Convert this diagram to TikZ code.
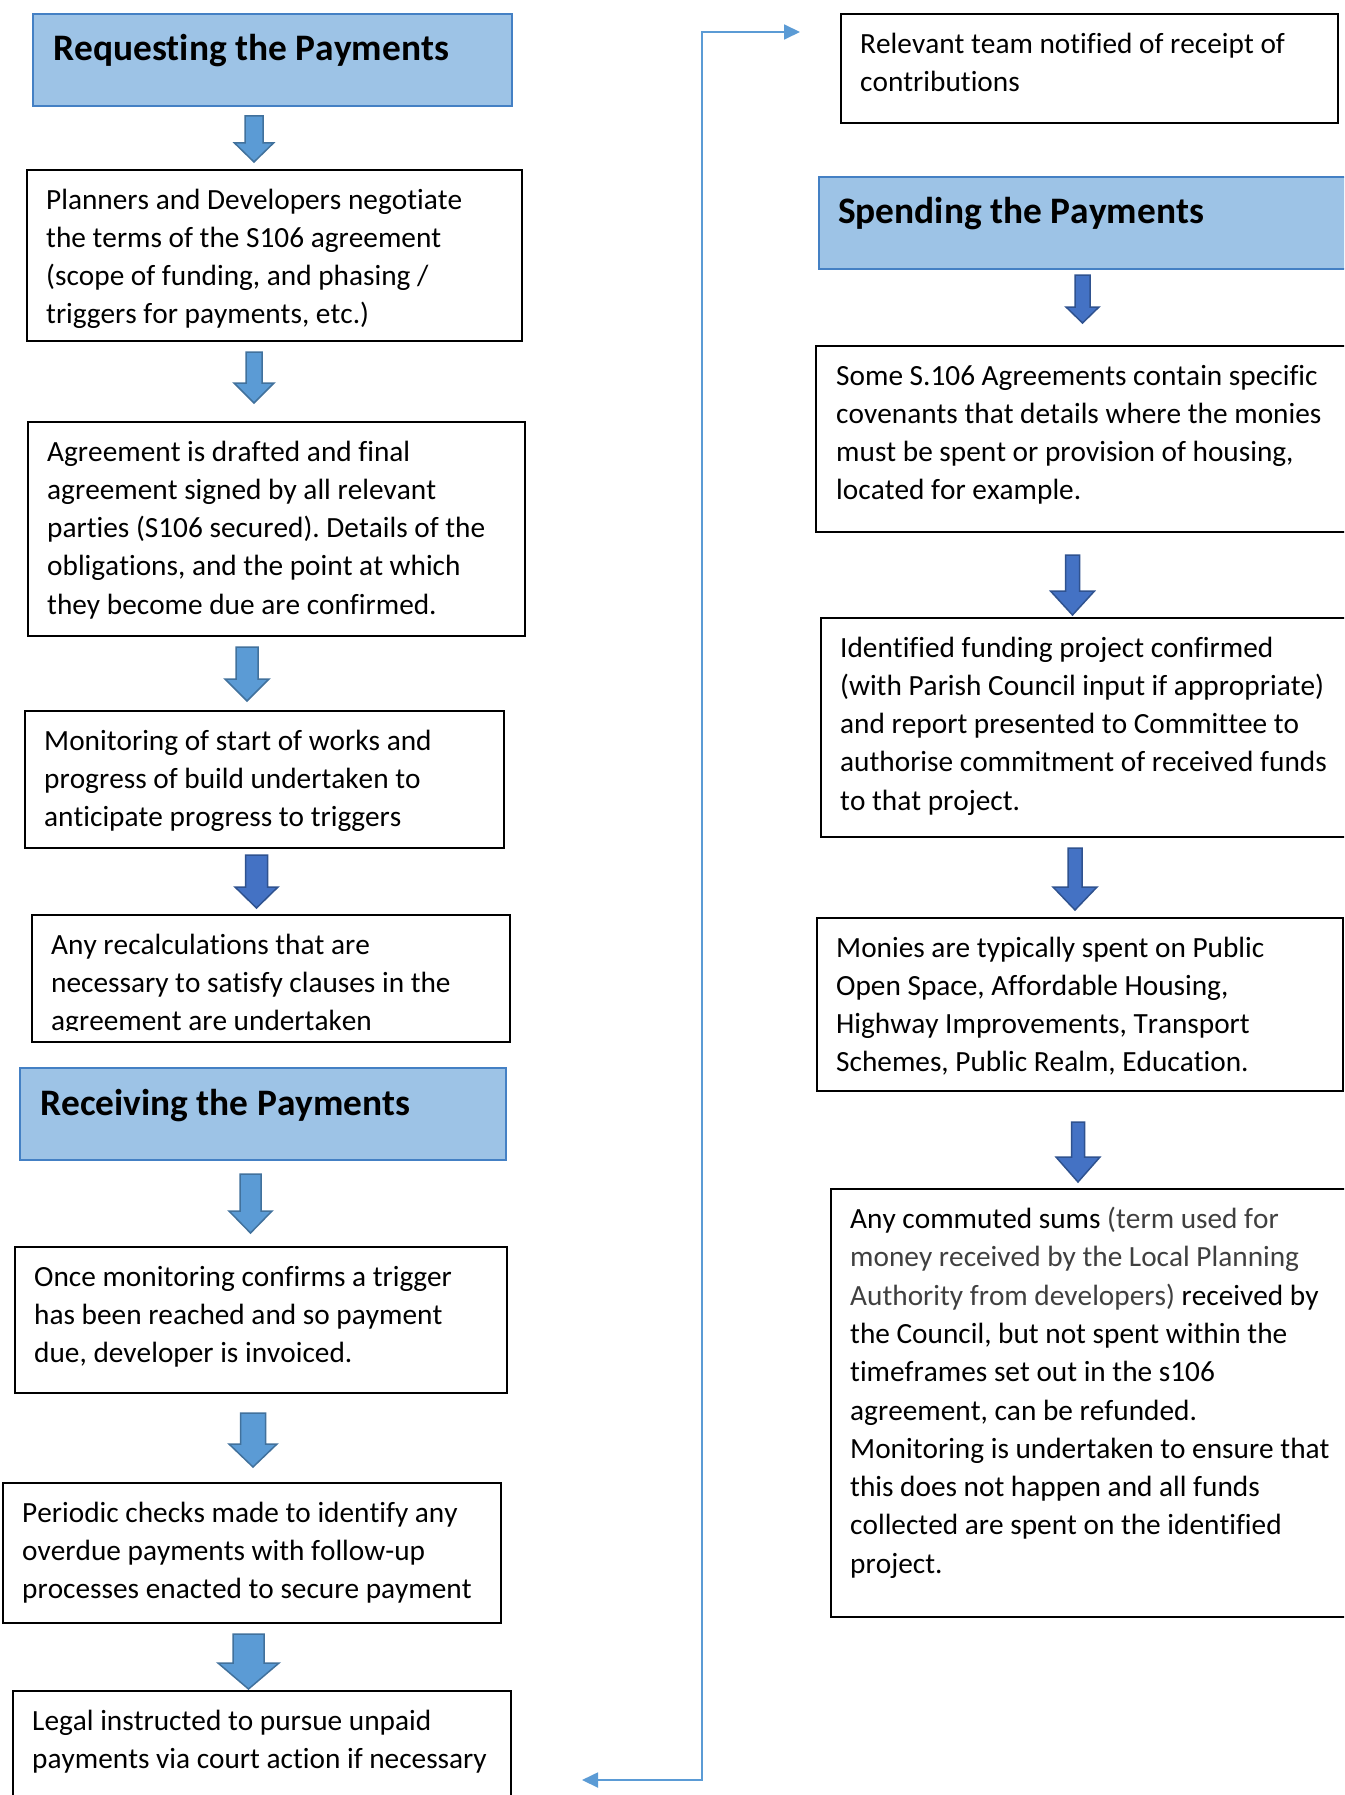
\documentclass[tikz,border=0pt]{standalone}
\usepackage{fontspec}
\setmainfont{Carlito}[Kerning=Off,Ligatures=NoCommon]
\usetikzlibrary{arrows.meta,calc}
\definecolor{headfill}{HTML}{9DC3E6}
\definecolor{headline}{RGB}{68,128,196}
\definecolor{lightfill}{HTML}{5B9BD5}
\definecolor{lightline}{HTML}{41719C}
\definecolor{darkfill}{HTML}{4472C4}
\definecolor{darkline}{HTML}{2F528F}
\definecolor{connblue}{HTML}{5B9BD5}
\definecolor{graytext}{HTML}{404040}
\newcommand\bodyfont{\frenchspacing\fontsize{29.3}{38.3}\selectfont}
\newcommand\headfont{\bfseries\fontsize{37.4}{44}\selectfont}
\newcommand\blockarr[7]{%
  \filldraw[#7] ({#1-#5/2},#2) -- ({#1+#5/2},#2) -- ({#1+#5/2},#3) -- ({#1+#6/2},#3)
    -- (#1,#4) -- ({#1-#6/2},#3) -- ({#1-#5/2},#3) -- cycle;}
\tikzset{
  box/.style={draw=black, line width=1.8pt, fill=white, rectangle, inner sep=0pt, anchor=north west},
  headbox/.style={draw=headline, line width=2pt, fill=headfill, rectangle, inner sep=0pt, anchor=north west},
  txt/.style={anchor=north west, inner sep=0pt, align=left, font=\bodyfont},
  htxt/.style={anchor=base west, inner sep=0pt, font=\headfont},
  lightarr/.style={fill=lightfill, draw=lightline, line width=1.5pt, line join=miter},
  darkarr/.style={fill=darkfill, draw=darkline, line width=1.5pt, line join=miter},
  conn/.style={draw=connblue, line width=1.8pt, {Triangle[length=16pt,width=15pt]}-{Triangle[length=16pt,width=15pt]}}
}
\begin{document}
\begin{tikzpicture}[x=1pt,y=-1pt]
\useasboundingbox (0,0) rectangle (1344,1795);
\clip (0,0) rectangle (1344,1795);
\fill[white] (0,0) rectangle (1344,1795);

% ---------- Left column ----------
\node[headbox, minimum width=479pt, minimum height=92pt] (h1) at (32,13) {};
\node[htxt] (h1t) at ([xshift=21pt,yshift=-48pt]h1.north west) {Requesting the Payments};

\blockarr{254}{116}{143}{162}{18}{39}{lightarr}

\node[box, minimum width=495pt, minimum height=171pt] (b1) at (26,169) {};
\node[txt] (b1t) at ([xshift=20pt,yshift=-13pt]b1.north west) {\strut Planners and Developers negotiate\\the terms of the S106 agreement\\(scope of funding, and phasing /\\triggers for payments, etc.)};

\blockarr{254}{352}{383}{403}{16}{40}{lightarr}

\node[box, minimum width=497pt, minimum height=214pt] (b2) at (27,421) {};
\node[txt] (b2t) at ([xshift=20pt,yshift=-13pt]b2.north west) {\strut Agreement is drafted and final\\agreement signed by all relevant\\parties (S106 secured). Details of the\\obligations, and the point at which\\they become due are confirmed.};

\blockarr{247}{647}{679}{701}{22}{44}{lightarr}

\node[box, minimum width=479pt, minimum height=137pt] (b3) at (24,710) {};
\node[txt] (b3t) at ([xshift=20pt,yshift=-13pt]b3.north west) {\strut Monitoring of start of works and\\progress of build undertaken to\\anticipate progress to triggers};

\blockarr{256.5}{855}{887}{908}{22}{43}{darkarr}

\node[box, minimum width=478pt, minimum height=127pt] (b4) at (31,914) {};
\begin{scope}
\clip (31,914) rectangle (508,1030);
\node[txt] (b4t) at ([xshift=20pt,yshift=-13pt]b4.north west) {\strut Any recalculations that are\\necessary to satisfy clauses in the\\agreement are undertaken};
\end{scope}

\node[headbox, minimum width=486pt, minimum height=92pt] (h2) at (19,1067) {};
\node[htxt] (h2t) at ([xshift=21pt,yshift=-48pt]h2.north west) {Receiving the Payments};

\blockarr{250.5}{1174}{1211}{1233}{21}{43}{lightarr}

\node[box, minimum width=492pt, minimum height=146pt] (b5) at (14,1246) {};
\node[txt] (b5t) at ([xshift=20pt,yshift=-13pt]b5.north west) {\strut Once monitoring confirms a trigger\\has been reached and so payment\\due, developer is invoiced.};

\blockarr{253}{1413}{1444}{1467}{25}{48}{lightarr}

\node[box, minimum width=498pt, minimum height=140pt] (b6) at (2,1482) {};
\node[txt] (b6t) at ([xshift=20pt,yshift=-13pt]b6.north west) {\strut Periodic checks made to identify any\\overdue payments with follow-up\\processes enacted to secure payment};

\blockarr{248.5}{1634}{1663}{1689}{31}{61}{lightarr}

\node[box, minimum width=498pt, minimum height=125pt] (b7) at (12,1690) {};
\node[txt] (b7t) at ([xshift=20pt,yshift=-13pt]b7.north west) {\strut Legal instructed to pursue unpaid\\payments via court action if necessary};

% ---------- Right column ----------
\node[box, minimum width=497pt, minimum height=109pt] (r1) at (840,13) {};
\node[txt] (r1t) at ([xshift=20pt,yshift=-13pt]r1.north west) {\strut Relevant team notified of receipt of\\contributions};

\node[headbox, minimum width=542pt, minimum height=92pt] (h3) at (818,176) {};
\node[htxt] (h3t) at ([xshift=20pt,yshift=-48pt]h3.north west) {Spending the Payments};

\blockarr{1082.5}{275}{307}{323}{15}{33}{darkarr}

\node[box, minimum width=545pt, minimum height=186pt] (r2) at (815,345) {};
\node[txt] (r2t) at ([xshift=21pt,yshift=-13pt]r2.north west) {\strut Some S.106 Agreements contain specific\\covenants that details where the monies\\must be spent or provision of housing,\\located for example.};

\blockarr{1072.5}{555}{591}{615}{14}{44}{darkarr}

\node[box, minimum width=540pt, minimum height=219pt] (r3) at (820,617) {};
\node[txt] (r3t) at ([xshift=20pt,yshift=-13pt]r3.north west) {\strut Identified funding project confirmed\\(with Parish Council input if appropriate)\\and report presented to Committee to\\authorise commitment of received funds\\to that project.};

\blockarr{1075}{848}{887}{910}{14}{44}{darkarr}

\node[box, minimum width=526pt, minimum height=173pt] (r4) at (816,917) {};
\node[txt] (r4t) at ([xshift=20pt,yshift=-13pt]r4.north west) {\strut Monies are typically spent on Public\\Open Space, Affordable Housing,\\Highway Improvements, Transport\\Schemes, Public Realm, Education.};

\blockarr{1078}{1122}{1157}{1182}{13}{44}{darkarr}

\node[box, minimum width=530pt, minimum height=428pt] (r5) at (830,1188) {};
\node[txt] (r5t) at ([xshift=20pt,yshift=-13.5pt]r5.north west) {\strut Any commuted sums {\color{graytext}(term used for}\\{\color{graytext}money received by the Local Planning}\\{\color{graytext}Authority from developers)} received by\\the Council, but not spent within the\\timeframes set out in the s106\\agreement, can be refunded.\\Monitoring is undertaken to ensure that\\this does not happen and all funds\\collected are spent on the identified\\project.};

% ---------- Connector ----------
\coordinate (cin) at (582,1780);
\coordinate (cv) at (702,32);
\coordinate (cout) at (800,32);
\draw[conn] (cin) -| (cv) -- (cout);
\end{tikzpicture}
\end{document}
